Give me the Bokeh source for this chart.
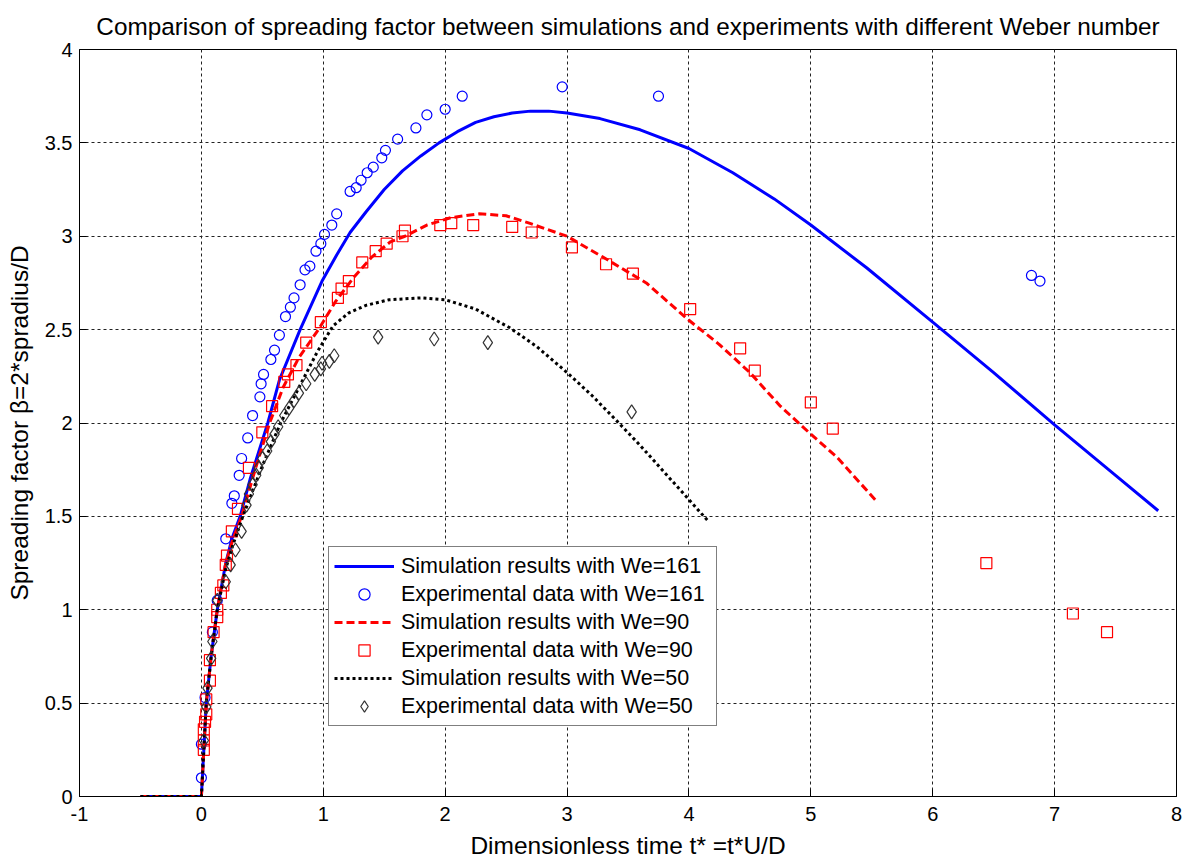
from bokeh.plotting import figure
from bokeh.models import Range1d, FixedTicker, Legend, LegendItem
from bokeh.embed import file_html
from bokeh.resources import INLINE

# ---------------- data ----------------
sim161_x = [-0.5, 0, 0.02, 0.04, 0.08, 0.13, 0.2, 0.25, 0.318, 0.4, 0.545, 0.64, 0.81, 0.99,
            1.11, 1.22, 1.35, 1.5, 1.65, 1.8, 1.95, 2.1, 2.25, 2.4, 2.55, 2.7, 2.85, 3.0, 3.27,
            3.6, 4.0, 4.36, 4.7, 5.0, 5.46, 6.0, 6.5, 7.0, 7.5, 7.85]
sim161_y = [0, 0, 0.25, 0.5, 0.75, 1.0, 1.25, 1.38, 1.5, 1.7, 2.0, 2.23, 2.5, 2.76,
            2.9, 3.02, 3.13, 3.25, 3.35, 3.43, 3.5, 3.56, 3.61, 3.64, 3.66, 3.67, 3.67, 3.66, 3.63,
            3.57, 3.47, 3.34, 3.20, 3.06, 2.83, 2.54, 2.27, 1.99, 1.72, 1.53]

exp161_x = [0.0, 0.0, 0.03, 0.09, 0.13, 0.2, 0.25, 0.27, 0.31, 0.33, 0.38, 0.42, 0.48, 0.49,
            0.51, 0.57, 0.6, 0.64, 0.69, 0.73, 0.76, 0.81, 0.85, 0.89, 0.94, 0.98, 1.01, 1.07,
            1.11, 1.22, 1.27, 1.31, 1.36, 1.41, 1.48, 1.51, 1.61, 1.76, 1.85, 2.0, 2.14, 2.96,
            3.75, 6.81, 6.88]
exp161_y = [0.10, 0.28, 0.53, 0.88, 1.05, 1.38, 1.57, 1.61, 1.72, 1.81, 1.92, 2.04, 2.14, 2.21,
            2.26, 2.34, 2.39, 2.47, 2.57, 2.62, 2.67, 2.74, 2.82, 2.84, 2.92, 2.96, 3.01, 3.06,
            3.12, 3.24, 3.26, 3.30, 3.34, 3.37, 3.42, 3.46, 3.52, 3.58, 3.65, 3.68, 3.75, 3.80,
            3.75, 2.79, 2.76]

sim90_x = [-0.5, 0, 0.02, 0.04, 0.08, 0.13, 0.2, 0.26, 0.33, 0.45, 0.56, 0.67, 0.8, 0.96, 1.1,
           1.25, 1.4, 1.55, 1.67, 1.85, 2.05, 2.28, 2.5, 2.69, 3.0, 3.29, 3.65, 4.0, 4.25, 4.5,
           4.75, 5.0, 5.21, 5.54]
sim90_y = [0, 0, 0.25, 0.5, 0.75, 1.0, 1.25, 1.38, 1.5, 1.77, 2.0, 2.19, 2.35, 2.5, 2.65,
           2.78, 2.89, 2.97, 3.0, 3.06, 3.10, 3.12, 3.11, 3.07, 3.0, 2.89, 2.75, 2.55, 2.42, 2.27,
           2.09, 1.94, 1.82, 1.58]

exp90_x = [0.02, 0.02, 0.02, 0.03, 0.04, 0.04, 0.07, 0.07, 0.1, 0.13, 0.13, 0.16, 0.18, 0.2,
           0.21, 0.25, 0.3, 0.39, 0.5, 0.58, 0.68, 0.71, 0.78, 0.86, 0.98, 1.12, 1.15, 1.21, 1.32,
           1.43, 1.52, 1.65, 1.67, 1.96, 2.05, 2.23, 2.55, 2.71, 3.04, 3.32, 3.54, 4.01, 4.42,
           4.54, 5.0, 5.18, 6.44, 7.15, 7.43]
exp90_y = [0.25, 0.30, 0.36, 0.40, 0.44, 0.52, 0.62, 0.73, 0.88, 0.96, 1.0, 1.09, 1.13, 1.24,
           1.29, 1.42, 1.54, 1.76, 1.95, 2.09, 2.22, 2.26, 2.31, 2.43, 2.54, 2.67, 2.72, 2.76, 2.86,
           2.92, 2.96, 3.0, 3.03, 3.06, 3.07, 3.06, 3.05, 3.02, 2.94, 2.85, 2.80, 2.61, 2.40,
           2.28, 2.11, 1.97, 1.25, 0.98, 0.88]

sim50_x = [-0.5, 0, 0.02, 0.04, 0.08, 0.13, 0.2, 0.26, 0.34, 0.5, 0.65, 0.8, 0.95, 1.08, 1.21,
           1.35, 1.54, 1.8, 2.0, 2.25, 2.53, 2.75, 3.0, 3.2, 3.41, 3.6, 3.82, 4.0, 4.15]
sim50_y = [0, 0, 0.25, 0.5, 0.75, 1.0, 1.22, 1.35, 1.5, 1.77, 2.0, 2.19, 2.38, 2.52, 2.59,
           2.63, 2.66, 2.67, 2.66, 2.61, 2.51, 2.41, 2.27, 2.15, 2.01, 1.88, 1.72, 1.59, 1.48]

exp50_x = [0.02, 0.04, 0.05, 0.08, 0.09, 0.13, 0.2, 0.24, 0.28, 0.33, 0.37, 0.39, 0.42, 0.45,
           0.47, 0.5, 0.54, 0.57, 0.6, 0.63, 0.68, 0.72, 0.76, 0.8, 0.86, 0.93, 0.98, 0.99, 1.05,
           1.09, 1.45, 1.91, 2.35, 3.53]
exp50_y = [0.30, 0.48, 0.58, 0.74, 0.83, 1.05, 1.15, 1.24, 1.32, 1.42, 1.56, 1.62, 1.67, 1.72,
           1.76, 1.81, 1.85, 1.90, 1.94, 1.98, 2.04, 2.08, 2.12, 2.16, 2.21, 2.26, 2.29, 2.32, 2.33,
           2.36, 2.46, 2.45, 2.43, 2.06]

x_ticks = [-1, 0, 1, 2, 3, 4, 5, 6, 7, 8]
y_ticks = [0, 0.5, 1, 1.5, 2, 2.5, 3, 3.5, 4]

labels = ["Simulation results with We=161", "Experimental data with We=161",
          "Simulation results with We=90", "Experimental data with We=90",
          "Simulation results with We=50", "Experimental data with We=50"]

FONT = "Liberation Sans"

# ---------------- figure ----------------
p = figure(width=1183, height=861, x_range=Range1d(-1, 8), y_range=Range1d(0, 4),
           output_backend="svg", toolbar_location=None,
           min_border_left=79, min_border_right=7, min_border_top=46, min_border_bottom=62)

p.title.text = "Comparison of spreading factor between simulations and experiments with different Weber number"
p.title.align = "center"
p.title.text_font = FONT
p.title.text_font_size = "24.3px"
p.title.text_font_style = "normal"
p.title.text_color = "black"
p.title.standoff = 20

p.outline_line_color = "black"
p.outline_line_width = 1
p.background_fill_color = "white"
p.border_fill_color = "white"

for ax in (p.xaxis[0], p.yaxis[0]):
    ax.major_label_text_font = FONT
    ax.major_label_text_font_size = "20px"
    ax.major_label_text_color = "black"
    ax.axis_label_text_font = FONT
    ax.axis_label_text_font_size = "24.5px"
    ax.axis_label_text_font_style = "normal"
    ax.axis_label_text_color = "black"
    ax.major_tick_in = 7
    ax.major_tick_out = 0
    ax.minor_tick_line_color = None
    ax.axis_line_color = "black"
    ax.major_tick_line_color = "black"

p.xaxis.ticker = FixedTicker(ticks=x_ticks)
p.yaxis.ticker = FixedTicker(ticks=y_ticks)
p.xaxis.major_label_overrides = {v: str(v) for v in x_ticks}
p.yaxis.major_label_overrides = {v: f"{v:g}" for v in y_ticks}
p.xaxis.axis_label = "Dimensionless time t* =t*U/D"
p.yaxis.axis_label = "Spreading factor \u03b2=2*spradius/D"
p.xaxis.major_label_standoff = 10
p.xaxis.axis_label_standoff = 8
p.yaxis.major_label_standoff = 7
p.yaxis.axis_label_standoff = 9

p.xgrid[0].ticker = FixedTicker(ticks=x_ticks)
p.ygrid[0].ticker = FixedTicker(ticks=y_ticks)
for g in (p.xgrid[0], p.ygrid[0]):
    g.grid_line_color = "#222222"
    g.grid_line_dash = "3 3"
    g.grid_line_width = 1

# ---------------- glyphs ----------------
r1 = p.line(sim161_x, sim161_y, line_color="#0000ff", line_width=3)
r2 = p.scatter(exp161_x, exp161_y, marker="circle", size=10, fill_color=None,
               line_color="#0000ff", line_width=1.2)
r3 = p.line(sim90_x, sim90_y, line_color="#ff0000", line_width=3, line_dash="8 4")
r4 = p.scatter(exp90_x, exp90_y, marker="square", size=11, fill_color=None,
               line_color="#ff0000", line_width=1.2)
r5 = p.line(sim50_x, sim50_y, line_color="black", line_width=3, line_dash="3 3")
r6 = p.scatter(exp50_x, exp50_y, marker="diamond", size=14, fill_color=None,
               line_color="#333333", line_width=1.2)

legend = Legend(items=[LegendItem(label=labels[i], renderers=[r])
                       for i, r in enumerate([r1, r2, r3, r4, r5, r6])],
                location=(249, 70))
legend.label_text_font = FONT
legend.label_text_font_size = "21.5px"
legend.label_text_color = "black"
legend.glyph_width = 60
legend.glyph_height = 28
legend.label_height = 28
legend.label_width = 310
legend.label_standoff = 7
legend.spacing = 0
legend.padding = 5
legend.margin = 0
legend.border_line_color = "black"
legend.border_line_width = 1
legend.background_fill_color = "white"
legend.background_fill_alpha = 1
p.add_layout(legend)

open("out.html", "w").write(file_html(p, INLINE))
